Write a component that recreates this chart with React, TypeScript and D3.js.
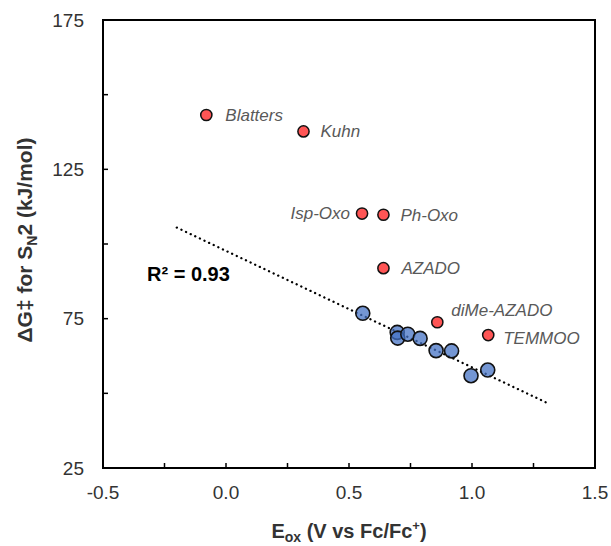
import React from "react";
import * as d3 from "d3";

// ---- data ----
const redNames = ["Blatters", "Kuhn", "Isp-Oxo", "Ph-Oxo", "AZADO", "diMe-AZADO", "TEMMOO"];
const redX = [-0.08, 0.315, 0.553, 0.64, 0.64, 0.859, 1.066];
const redY = [143.2, 137.7, 110.2, 109.8, 91.9, 73.8, 69.5];
const blueX = [0.556, 0.696, 0.698, 0.739, 0.789, 0.854, 0.917, 0.996, 1.064];
const blueY = [76.8, 70.4, 68.5, 69.8, 68.4, 64.3, 64.2, 55.9, 57.8];
const trendX = [-0.2, 1.3];
const trendY = [105.5, 47.0];
const xTicks = [-0.5, 0, 0.5, 1.0, 1.5];
const xMinorTicks = [-0.25, 0.25, 0.75, 1.25];
const yTicks = [25, 75, 125, 175];
const yMinorTicks = [50, 100, 150];
const r2Label = "R² = 0.93";

// ---- layout ----
const W = 611;
const H = 546;
const plot = { left: 103, right: 595, top: 20, bottom: 468 };
const labelPlacement: Record<string, { dx: number; dy: number; anchor: string }> = {
  Blatters: { dx: 19, dy: 0, anchor: "start" },
  Kuhn: { dx: 17, dy: 0, anchor: "start" },
  "Isp-Oxo": { dx: -12, dy: 0, anchor: "end" },
  "Ph-Oxo": { dx: 17, dy: 0, anchor: "start" },
  AZADO: { dx: 18, dy: 0, anchor: "start" },
  "diMe-AZADO": { dx: 14, dy: -12, anchor: "start" },
  TEMMOO: { dx: 15, dy: 3, anchor: "start" },
};
const FONT = "'Liberation Sans', Arial, sans-serif";
const fmtX = (v: number) => d3.format(".1f")(v).replace("\u2212", "-");

export default function App() {
  const x = d3.scaleLinear().domain([-0.5, 1.5]).range([plot.left, plot.right]);
  const y = d3.scaleLinear().domain([25, 175]).range([plot.bottom, plot.top]);
  const trend = d3
    .line<number>()
    .x((_, i) => x(trendX[i]))
    .y((d) => y(d))(trendY);

  const tickLen = 5;
  const blue = blueX.map((v, i) => ({ x: v, y: blueY[i] }));
  const red = redNames.map((n, i) => ({ name: n, x: redX[i], y: redY[i] }));

  return (
    <svg
      width={W}
      height={H}
      style={{ position: "absolute", left: 0, top: 0, background: "#fff" }}
      fontFamily={FONT}
    >
      <rect x={0} y={0} width={W} height={H} fill="#fff" />
      {/* trend line */}
      <path
        d={trend ?? ""}
        fill="none"
        stroke="#000"
        strokeWidth={2.3}
        strokeLinecap="round"
        strokeDasharray="0.1 5"
      />
      {/* blue points */}
      {blue.map((d, i) => (
        <circle
          key={"b" + i}
          cx={x(d.x)}
          cy={y(d.y)}
          r={7}
          fill="rgb(68,114,196)"
          fillOpacity={0.74}
          stroke="#111"
          strokeWidth={1.6}
        />
      ))}
      {/* red points */}
      {red.map((d) => (
        <circle
          key={d.name}
          cx={x(d.x)}
          cy={y(d.y)}
          r={5.6}
          fill="#FF5555"
          stroke="#111"
          strokeWidth={1.5}
        />
      ))}
      {red.map((d) => {
        const p = labelPlacement[d.name];
        return (
          <text
            key={"l" + d.name}
            x={x(d.x) + p.dx}
            y={y(d.y) + p.dy}
            dy="0.35em"
            textAnchor={p.anchor as any}
            fontSize={17}
            fontStyle="italic"
            fill="#595959"
          >
            {d.name}
          </text>
        );
      })}
      {/* R2 */}
      <text x={147} y={281} fontSize={20} fontWeight="bold" fill="#000">
        {r2Label}
      </text>

      {/* frame */}
      <rect
        x={plot.left}
        y={plot.top}
        width={plot.right - plot.left}
        height={plot.bottom - plot.top}
        fill="none"
        stroke="#000"
        strokeWidth={2}
      />
      {/* y ticks */}
      {[...yTicks, ...yMinorTicks].map((t) => (
        <line
          key={"yt" + t}
          x1={plot.left}
          x2={plot.left + tickLen}
          y1={y(t)}
          y2={y(t)}
          stroke="#000"
          strokeWidth={1.5}
        />
      ))}
      {yTicks.map((t) => (
        <text
          key={"yl" + t}
          x={plot.left - 19}
          y={y(t)}
          dy="0.35em"
          textAnchor="end"
          fontSize={19}
          fill="#333"
        >
          {d3.format("d")(t)}
        </text>
      ))}
      {/* x ticks */}
      {[...xTicks, ...xMinorTicks].map((t) => (
        <line
          key={"xt" + t}
          x1={x(t)}
          x2={x(t)}
          y1={plot.bottom}
          y2={plot.bottom - tickLen}
          stroke="#000"
          strokeWidth={1.5}
        />
      ))}
      {xTicks.map((t) => (
        <text
          key={"xl" + t}
          x={x(t)}
          y={499}
          textAnchor="middle"
          fontSize={19}
          fill="#333"
        >
          {fmtX(t)}
        </text>
      ))}
      {/* x title */}
      <text
        x={(plot.left + plot.right) / 2}
        y={538}
        textAnchor="middle"
        fontSize={20}
        fontWeight="bold"
        fill="#333"
      >
        E
        <tspan fontSize={14} dy={4}>
          ox
        </tspan>
        <tspan dy={-4}> (V vs Fc/Fc</tspan>
        <tspan fontSize={13} dy={-8}>
          +
        </tspan>
        <tspan dy={8}>)</tspan>
      </text>
      {/* y title */}
      <text
        transform={`translate(32,240) rotate(-90)`}
        textAnchor="middle"
        fontSize={21}
        fontWeight="bold"
        fill="#333"
      >
        ΔG‡ for S
        <tspan fontSize={14} dy={5}>
          N
        </tspan>
        <tspan dy={-5}>2 (kJ/mol)</tspan>
      </text>
    </svg>
  );
}
